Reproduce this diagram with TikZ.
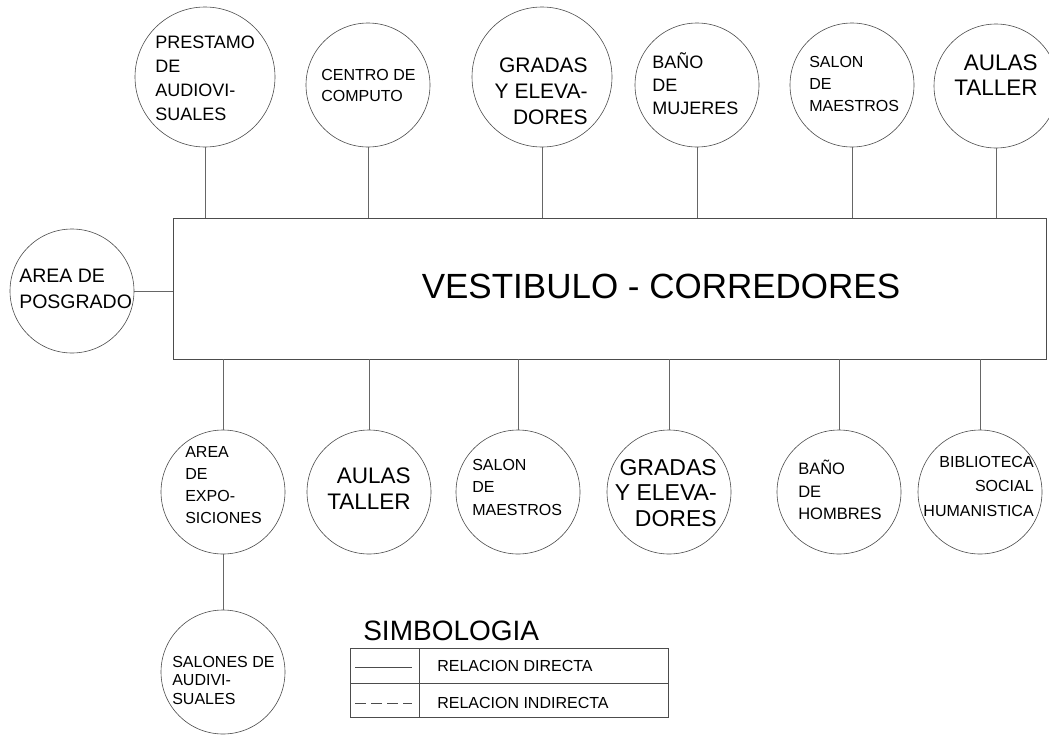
\documentclass[tikz,border=0pt]{standalone}
\usepackage{fontspec}
\setmainfont{Liberation Sans}
\begin{document}
\begin{tikzpicture}[x=1pt,y=-1pt,line width=.6pt,
  room/.style={draw=black!70,circle,inner sep=0pt,minimum size=124pt},
  bigroom/.style={room,minimum size=140pt},
  lt/.style={inner sep=0pt,align=left,anchor=west,font=\fontsize{16}{22}\selectfont},
  rt/.style={inner sep=0pt,align=right,anchor=east,font=\fontsize{16}{22}\selectfont},
  lnk/.style={draw=black!60}]
\clip (0,0) rectangle (1049,736);
\node[draw=black!70,minimum width=873pt,minimum height=141pt,inner sep=0pt] (hall) at (609.5,288.5) {};
\node[inner sep=0pt,font=\fontsize{35}{40}\selectfont] (hallt) at (661,286) {VESTIBULO - CORREDORES};
% arriba
\node[bigroom] (pres) at (205,77) {};
\node[lt,font=\fontsize{18}{24}\selectfont] (prest) at (155,78) {PRESTAMO\\DE\\AUDIOVI-\\SUALES};
\node[room] (cent) at (368,85) {};
\node[lt,font=\fontsize{16}{21}\selectfont] (centt) at (321,85) {CENTRO DE\\COMPUTO};
\node[bigroom] (grad) at (542,77) {};
\node[rt,font=\fontsize{21}{26}\selectfont] (gradt) at (588,91) {GRADAS\\Y ELEVA-\\DORES};
\node[room] (banm) at (697,85) {};
\node[lt,font=\fontsize{18}{23}\selectfont] (banmt) at (652,84) {BAÑO\\DE\\MUJERES};
\node[room] (salm) at (852,85) {};
\node[lt] (salmt) at (809,84) {SALON\\DE\\MAESTROS};
\node[room] (aula) at (996,86) {};
\node[rt,font=\fontsize{22.5}{25}\selectfont] (aulat) at (1038,75) {AULAS\\TALLER};
% izquierda
\node[room] (posg) at (72,291) {};
\node[lt,font=\fontsize{19.5}{26}\selectfont] (posgt) at (19,289) {AREA DE\\POSGRADO};
% abajo
\node[room] (expo) at (223,492) {};
\node[lt] (expot) at (185,485) {AREA\\DE\\EXPO-\\SICIONES};
\node[room] (aulb) at (369,492) {};
\node[rt,font=\fontsize{22.5}{26}\selectfont] (aulbt) at (411,489) {AULAS\\TALLER};
\node[room] (salb) at (518,492) {};
\node[lt,font=\fontsize{16}{22.5}\selectfont] (salbt) at (472,487) {SALON\\DE\\MAESTROS};
\node[room] (grab) at (669,492) {};
\node[rt,font=\fontsize{23}{25.5}\selectfont] (grabt) at (717,493) {GRADAS\\Y ELEVA-\\DORES};
\node[room] (banh) at (839,492) {};
\node[lt,font=\fontsize{16.5}{22.5}\selectfont] (banht) at (798,490) {BAÑO\\DE\\HOMBRES};
\node[room] (bibl) at (980,492) {};
\node[rt,font=\fontsize{16}{24.5}\selectfont] (biblt) at (1034,486) {BIBLIOTECA\\SOCIAL\\HUMANISTICA};
\node[room] (saud) at (223,672) {};
\node[lt,font=\fontsize{16}{18.5}\selectfont] (saudt) at (172,680) {SALONES DE\\AUDIVI-\\SUALES};
% relaciones
\foreach \r in {pres,cent,grad,banm,salm,aula}
  \draw[lnk] (\r.south) -- (\r.south |- hall.north);
\foreach \r in {expo,aulb,salb,grab,banh,bibl}
  \draw[lnk] (\r.north) -- (\r.north |- hall.south);
\draw[lnk] (posg.east) -- (posg.east -| hall.west);
\draw[lnk] (expo.south) -- (saud.north);
% simbologia
\node[inner sep=0pt,anchor=west,font=\fontsize{28}{30}\selectfont] (simb) at (363,631) {SIMBOLOGIA};
\draw[black!70] (350,648) rectangle (668,717);
\draw[black!70] (350,683) -- (668,683) (419,648) -- (419,717);
\draw[black!70] (355,667) -- (412,667);
\draw[black!70,dash pattern=on 11pt off 5pt] (355,703) -- (412,703);
\node[lt] (dir) at (437,666) {RELACION DIRECTA};
\node[lt] (ind) at (437,703) {RELACION INDIRECTA};
\end{tikzpicture}
\end{document}
